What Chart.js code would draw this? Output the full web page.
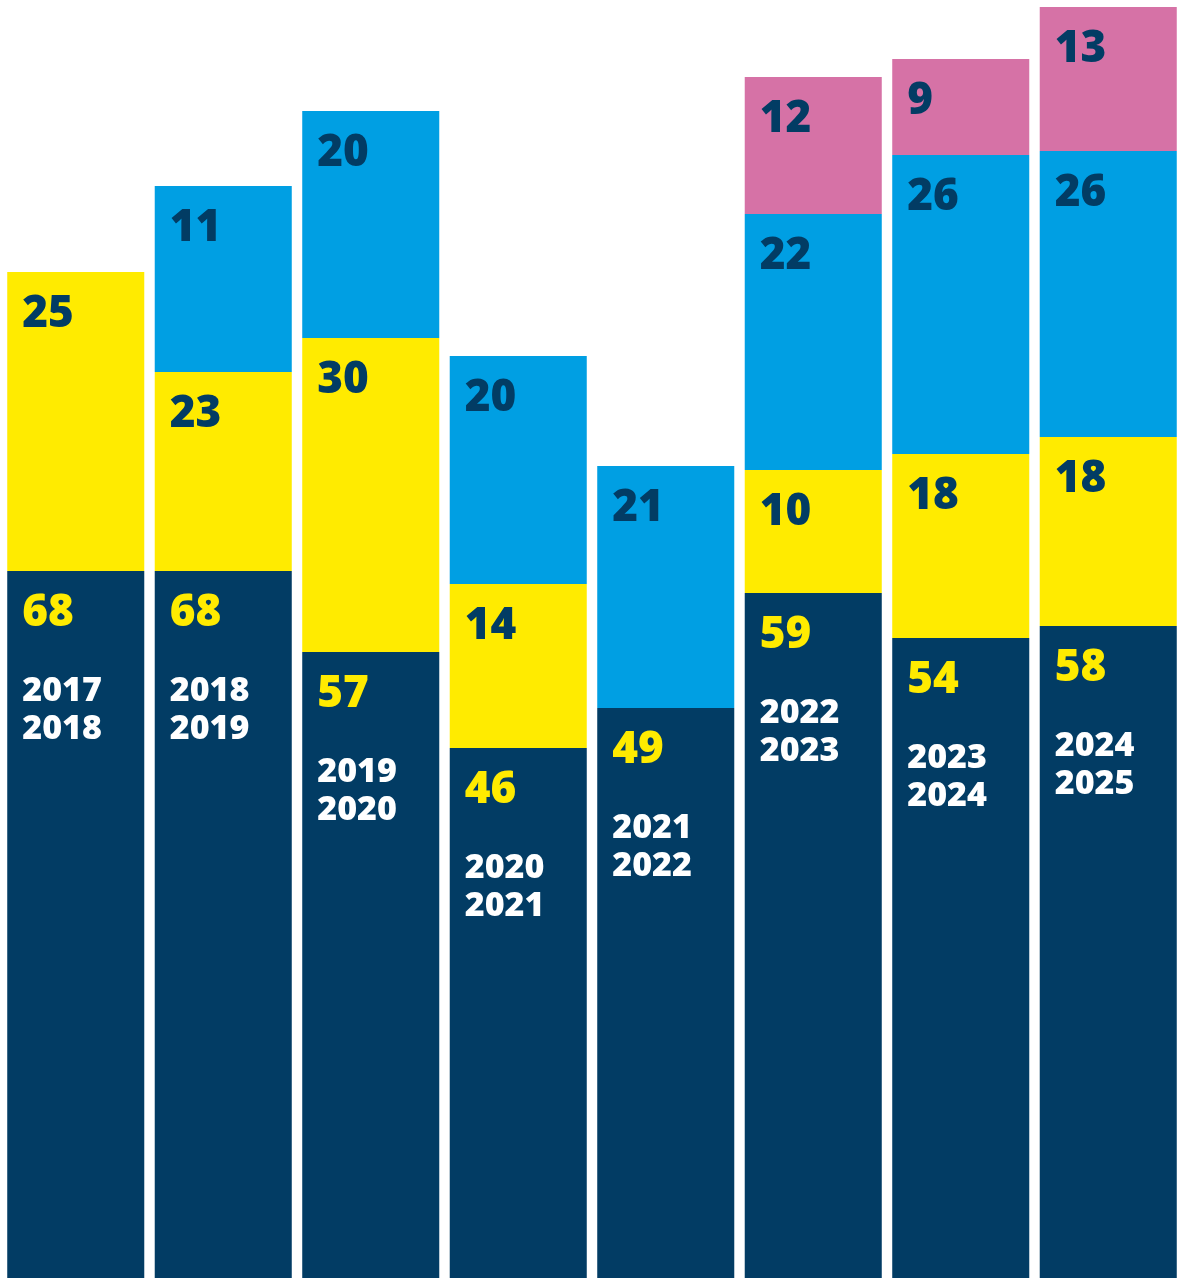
<!DOCTYPE html>
<html>
<head>
<meta charset="utf-8">
<script src="https://cdn.jsdelivr.net/npm/chart.js@4/dist/chart.umd.min.js"></script>
<style>
  html, body { margin: 0; padding: 0; background: #ffffff; overflow: hidden; }
  #wrap { position: relative; width: 1182px; height: 1279px; }
</style>
</head>
<body>
<div id="wrap"><canvas id="chart"></canvas></div>
<script>
// Season labels (shown inside the dark segment, two lines)
const seasons = [
  ['2017', '2018'], ['2018', '2019'], ['2019', '2020'], ['2020', '2021'],
  ['2021', '2022'], ['2022', '2023'], ['2023', '2024'], ['2024', '2025']
];

// Drawn segment heights (the graphic is not to scale)
const darkHeights   = [707, 707, 626, 530, 570, 685, 640, 652];
const yellowHeights = [299, 199, 314, 164, 0, 123, 184, 189];
const blueHeights   = [0, 186, 227, 228, 242, 256, 299, 286];
const pinkHeights   = [0, 0, 0, 0, 0, 137, 96, 144];

// Printed values on each segment
const darkLabels   = [68, 68, 57, 46, 49, 59, 54, 58];
const yellowLabels = [25, 23, 30, 14, null, 10, 18, 18];
const blueLabels   = [null, 11, 20, 20, 21, 22, 26, 26];
const pinkLabels   = [null, null, null, null, null, 12, 9, 13];

const COLORS = {
  dark: '#023c64',
  yellow: '#ffeb00',
  blue: '#009fe3',
  pink: '#d672a6',
  white: '#ffffff'
};

const FONT = '"Open Sans", "Noto Sans", sans-serif';

// Draws the numbers and the season labels inside the bars
const segmentLabels = {
  id: 'segmentLabels',
  afterDatasetsDraw(chart) {
    const ctx = chart.ctx;
    ctx.save();
    ctx.textAlign = 'left';
    ctx.textBaseline = 'alphabetic';
    chart.data.datasets.forEach((ds, di) => {
      const meta = chart.getDatasetMeta(di);
      meta.data.forEach((bar, i) => {
        const label = ds.segLabels[i];
        if (label === null || label === undefined) return;
        const left = bar.x - bar.width / 2;
        ctx.fillStyle = ds.labelColor;
        ctx.font = '800 44px ' + FONT;
        ctx.fillText(String(label), left + 15, bar.y + 55);

        // season years only in the bottom segment
        if (di === 0) {
          ctx.fillStyle = COLORS.white;
          ctx.font = '800 34px ' + FONT;
          const yrs = seasons[i];
          ctx.fillText(yrs[0], left + 15, bar.y + 130);
          ctx.fillText(yrs[1], left + 15, bar.y + 168);
        }
      });
    });
    ctx.restore();
  }
};

const makeSet = (data, color, labels, labelColor) => ({
  data: data,
  backgroundColor: color,
  borderWidth: 0,
  barPercentage: 0.929,
  categoryPercentage: 1,
  segLabels: labels,
  labelColor: labelColor
});

new Chart(document.getElementById('chart'), {
  type: 'bar',
  data: {
    labels: seasons.map(s => s.join('/')),
    datasets: [
      makeSet(darkHeights, COLORS.dark, darkLabels, COLORS.yellow),
      makeSet(yellowHeights, COLORS.yellow, yellowLabels, COLORS.dark),
      makeSet(blueHeights, COLORS.blue, blueLabels, COLORS.dark),
      makeSet(pinkHeights, COLORS.pink, pinkLabels, COLORS.dark)
    ]
  },
  options: {
    responsive: true,
    maintainAspectRatio: false,
    animation: false,
    layout: { padding: { left: 2, right: 0, top: 0, bottom: 1 } },
    scales: {
      x: { stacked: true, display: false },
      y: { stacked: true, display: false, min: 0, max: 1278 }
    },
    plugins: {
      legend: { display: false },
      tooltip: { enabled: false }
    }
  },
  plugins: [segmentLabels]
});
</script>
</body>
</html>
